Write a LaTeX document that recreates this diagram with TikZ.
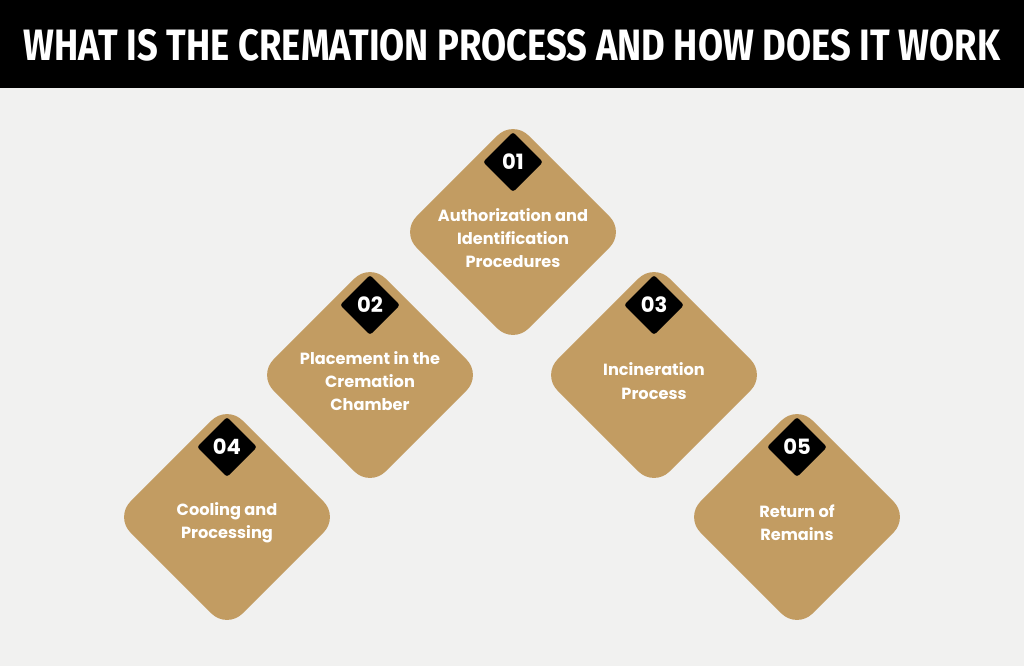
\documentclass[tikz,border=0pt]{standalone}
\usepackage{fontspec}
\setmainfont{Poppins}
\newfontfamily\titlefont{Fira Sans}
\usetikzlibrary{positioning}
\definecolor{gold}{HTML}{C29C62}
\definecolor{paper}{HTML}{F1F1F0}
\tikzset{
  tile/.style={rectangle, fill=gold, rotate=45, minimum size=3.96cm, rounded corners=0.55cm},
  badge/.style={rectangle, fill=black, rotate=45, minimum size=1.06cm, rounded corners=2pt},
  numtext/.style={text=white, font=\bfseries\fontsize{15}{15}\selectfont},
  steptext/.style={text=white, align=center, font=\bfseries\fontsize{11.5}{16.5}\selectfont}
}
\begin{document}
\begin{tikzpicture}[x=0.025cm, y=-0.025cm]
  \fill[paper] (0,0) rectangle (1024,666);
  \useasboundingbox (0,0) rectangle (1024,666);
  \fill[black] (0,0) rectangle (1024,88);
  \node[text=white, font=\titlefont\bfseries] (title) at (512,45)
    {\resizebox{24.4cm}{0.78cm}{WHAT IS THE CREMATION PROCESS AND HOW DOES IT WORK}};
  % tiles
  \foreach \n/\x/\y/\txt in {
      1/513/232/{Authorization and\\Identification\\Procedures},
      2/370/375/{Placement in the\\Cremation\\Chamber},
      3/654/375/{Incineration\\Process},
      4/227/517/{Cooling and\\Processing},
      5/797/517/{Return of\\Remains}} {
    \node[tile] (d\n) at (\x,\y) {};
    \node[badge] (b\n) at (\x,\y-70) {};
    \node[numtext] at (b\n) {0\n};
    \node[steptext] (t\n) at (\x,\y+6) {\txt};
  }
\end{tikzpicture}
\end{document}
